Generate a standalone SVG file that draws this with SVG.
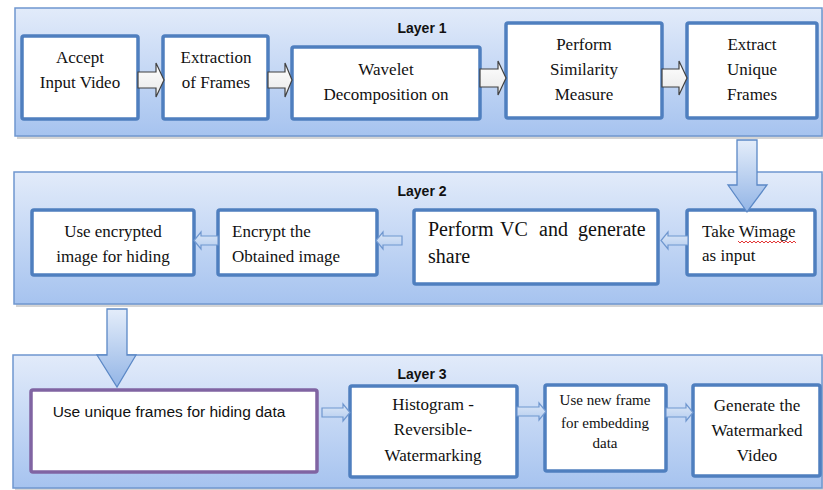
<svg xmlns="http://www.w3.org/2000/svg" width="823" height="490" viewBox="0 0 823 490">
<defs>
<linearGradient id="pg" x1="0" y1="0" x2="0" y2="1">
<stop offset="0" stop-color="#e2ebfa"/>
<stop offset="1" stop-color="#a6c3ef"/>
</linearGradient>
<linearGradient id="ag" x1="0" y1="0" x2="0" y2="1">
<stop offset="0" stop-color="#e4edfa"/>
<stop offset="1" stop-color="#93b5e6"/>
</linearGradient>
<linearGradient id="wg" x1="0" y1="0" x2="0" y2="1">
<stop offset="0" stop-color="#ffffff"/>
<stop offset="1" stop-color="#e8e8e8"/>
</linearGradient>
<linearGradient id="sg" x1="0" y1="0" x2="0" y2="1">
<stop offset="0" stop-color="#dce7f7"/>
<stop offset="1" stop-color="#b5cdef"/>
</linearGradient>
</defs>
<style>
.panel{fill:url(#pg);stroke:#6f97cf;stroke-width:1.5}
.shadow{fill:#b8b8b8;opacity:0.6}
.box{fill:#ffffff;stroke:#4f7fbf;stroke-width:3.5}
.pbox{fill:#ffffff;stroke:#8064a2;stroke-width:3.5}
.t{font-family:'Liberation Serif','DejaVu Serif','Noto Serif',serif;font-size:17px;fill:#111111;text-anchor:middle}
.tl{font-family:'Liberation Serif','DejaVu Serif','Noto Serif',serif;font-size:17px;fill:#111111}
.lay{font-family:'Liberation Sans',Arial,sans-serif;font-size:14px;font-weight:bold;fill:#111111;text-anchor:middle}
.ba{fill:url(#wg);stroke:#404040;stroke-width:1.2}
.sa{fill:url(#sg);stroke:#6f97cf;stroke-width:1.2}
.big{fill:url(#ag);stroke:#5b88c6;stroke-width:1.3}
</style>

<!-- panels -->
<g id="layer1">
<rect class="shadow" x="17" y="10" width="806" height="129"/>
<rect class="panel" x="15" y="8" width="807" height="128"/>
<text class="lay" x="422" y="33">Layer 1</text>
</g>
<g id="layer2">
<rect class="shadow" x="16" y="174" width="807" height="133"/>
<rect class="panel" x="14" y="172" width="808" height="132"/>
<text class="lay" x="422" y="196">Layer 2</text>
</g>
<g id="layer3">
<rect class="shadow" x="15" y="357" width="808" height="133"/>
<rect class="panel" x="13" y="355" width="809" height="133"/>
<text class="lay" x="422" y="379">Layer 3</text>
</g>

<!-- Layer 1 nodes -->
<g id="accept">
<rect class="box" x="22" y="36" width="116" height="83" rx="2"/>
<text class="t" x="80" y="63">Accept</text>
<text class="t" x="80" y="88">Input Video</text>
</g>
<g id="extraction">
<rect class="box" x="163" y="36" width="105" height="83" rx="2"/>
<text class="t" x="216" y="63">Extraction</text>
<text class="t" x="216" y="88">of Frames</text>
</g>
<g id="wavelet">
<rect class="box" x="292" y="47" width="188" height="72" rx="2"/>
<text class="t" x="386" y="75">Wavelet</text>
<text class="t" x="386" y="100">Decomposition on</text>
</g>
<g id="similarity">
<rect class="box" x="506" y="23" width="156" height="95" rx="2"/>
<text class="t" x="584" y="50">Perform</text>
<text class="t" x="584" y="75">Similarity</text>
<text class="t" x="584" y="100">Measure</text>
</g>
<g id="unique">
<rect class="box" x="687" y="23" width="130" height="95" rx="2"/>
<text class="t" x="752" y="50">Extract</text>
<text class="t" x="752" y="75">Unique</text>
<text class="t" x="752" y="100">Frames</text>
</g>

<!-- Layer 2 nodes -->
<g id="useenc">
<rect class="box" x="32" y="210" width="162" height="65" rx="2"/>
<text class="t" x="113" y="237">Use encrypted</text>
<text class="t" x="113" y="262">image for hiding</text>
</g>
<g id="encrypt">
<rect class="box" x="218" y="210" width="159" height="65" rx="2"/>
<text class="tl" x="232" y="237">Encrypt the</text>
<text class="tl" x="232" y="262">Obtained image</text>
</g>
<g id="vc">
<rect class="box" x="414" y="210" width="244" height="74" rx="2"/>
<g class="tl" style="font-size:20px">
<text x="428" y="236">Perform</text>
<text x="500" y="236">VC</text>
<text x="539" y="236">and</text>
<text x="578" y="236">generate</text>
<text x="428" y="263">share</text>
</g>
</g>
<g id="takew">
<rect class="box" x="687" y="210" width="128" height="65" rx="2"/>
<text class="tl" x="702" y="237">Take Wimage</text>
<text class="tl" x="702" y="261">as input</text>
<polyline points="738,241 740,243 742,241 744,243 746,241 748,243 750,241 752,243 754,241 756,243 758,241 760,243 762,241 764,243 766,241 768,243 770,241 772,243 774,241 776,243 778,241 780,243 782,241 784,243 786,241 788,243 790,241 792,243 794,241 796,243" fill="none" stroke="#e02020" stroke-width="0.9"/>
</g>

<!-- Layer 3 nodes -->
<g id="useunique">
<rect class="pbox" x="31" y="390" width="286" height="82" rx="2"/>
<text x="169" y="417" font-family="Liberation Sans, Arial, sans-serif" font-size="15.5" fill="#111111" text-anchor="middle">Use unique frames for hiding data</text>
</g>
<g id="histogram">
<rect class="box" x="350" y="386" width="167" height="91" rx="2"/>
<text class="t" x="433" y="410">Histogram -</text>
<text class="t" x="433" y="435">Reversible-</text>
<text class="t" x="433" y="461">Watermarking</text>
</g>
<g id="newframe">
<rect class="box" x="545" y="385" width="121" height="86" rx="2"/>
<text class="t" x="605" y="405" style="font-size:15px">Use new frame</text>
<text class="t" x="605" y="428" style="font-size:15px">for embedding</text>
<text class="t" x="605" y="448" style="font-size:15px">data</text>
</g>
<g id="generate">
<rect class="box" x="693" y="385" width="127" height="91" rx="2"/>
<text class="t" x="757" y="411">Generate the</text>
<text class="t" x="757" y="436">Watermarked</text>
<text class="t" x="757" y="461">Video</text>
</g>

<!-- connectors -->
<g id="connectors">
<path class="ba" d="M138,72 H156 V63 L164,80 L156,97 V88 H138 Z"/>
<path class="ba" d="M268,72 H285 V63 L292,80 L285,97 V88 H268 Z"/>
<path class="ba" d="M480,69 H498 V61 L506,78 L498,95 V87 H480 Z"/>
<path class="ba" d="M662,69 H679 V61 L687,78 L679,95 V87 H662 Z"/>
<path class="big" d="M737,140 H757 V185 H767 L747,212 L728,185 H737 Z"/>
<path class="big" d="M107,309 H127 V355 H136 L117,387 L97,355 H107 Z"/>
<path class="sa" d="M688,236 H668 V232 L661,240.5 L668,249 V245 H688 Z"/>
<path class="sa" d="M402,236 H383 V232 L376,240.5 L383,249 V245 H402 Z"/>
<path class="sa" d="M218,236 H201 V232 L194,240.5 L201,249 V245 H218 Z"/>
<path class="sa" d="M322,408 H343 V404 L350,412.5 L343,421 V417 H322 Z"/>
<path class="sa" d="M517,407 H539 V403 L546,411.5 L539,420 V416 H517 Z"/>
<path class="sa" d="M666,408 H686 V404 L693,412.5 L686,421 V417 H666 Z"/>
</g>
</svg>
